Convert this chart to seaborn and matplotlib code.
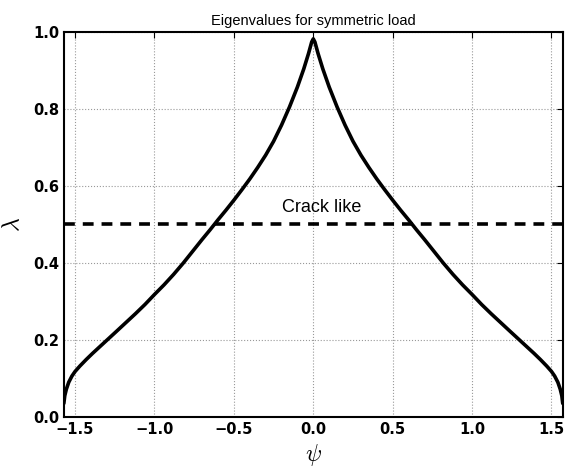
import numpy as np
import pandas as pd
import seaborn as sns
import matplotlib.pyplot as plt

# values (curve is symmetric about psi = 0)
psi = [-1.5708, -1.565, -1.555, -1.54, -1.52, -1.50, -1.47, -1.43, -1.39, -1.34,
       -1.29, -1.24, -1.18, -1.12, -1.06, -1.00, -0.94, -0.88, -0.82, -0.76,
       -0.70, -0.65, -0.60, -0.55, -0.50, -0.45, -0.40, -0.35, -0.30, -0.25,
       -0.20, -0.15, -0.10, -0.06, -0.03, -0.01, 0.0,
       0.01, 0.03, 0.06, 0.10, 0.15, 0.20, 0.25, 0.30, 0.35, 0.40,
       0.45, 0.50, 0.55, 0.60, 0.65, 0.70, 0.76, 0.82, 0.88, 0.94,
       1.00, 1.06, 1.12, 1.18, 1.24, 1.29, 1.34, 1.39, 1.43, 1.47,
       1.50, 1.52, 1.54, 1.555, 1.565, 1.5708]
lam = [0.035, 0.055, 0.072, 0.090, 0.106, 0.118, 0.132, 0.149, 0.165, 0.184,
       0.203, 0.222, 0.245, 0.268, 0.292, 0.318, 0.343, 0.370, 0.399, 0.430,
       0.461, 0.486, 0.512, 0.537, 0.563, 0.590, 0.618, 0.648, 0.680, 0.716,
       0.758, 0.805, 0.857, 0.904, 0.944, 0.974, 0.982,
       0.974, 0.944, 0.904, 0.857, 0.805, 0.758, 0.716, 0.680, 0.648, 0.618,
       0.590, 0.563, 0.537, 0.512, 0.486, 0.461, 0.430, 0.399, 0.370, 0.343,
       0.318, 0.292, 0.268, 0.245, 0.222, 0.203, 0.184, 0.165, 0.149, 0.132,
       0.118, 0.106, 0.090, 0.072, 0.055, 0.035]
crack_level = 0.5
x_ticks = [-1.5, -1.0, -0.5, 0.0, 0.5, 1.0, 1.5]
y_ticks = [0.0, 0.2, 0.4, 0.6, 0.8, 1.0]

df = pd.DataFrame({"psi": psi, "lam": lam})

sns.set_style("white")
plt.rcParams["font.family"] = ["DejaVu Sans"]
plt.rcParams["mathtext.fontset"] = "cm"
plt.rcParams["text.color"] = "black"

fig = plt.figure(figsize=(5.65, 4.7), dpi=100)
ax = fig.add_axes([0.113, 0.113, 0.883, 0.819])

sns.lineplot(data=df, x="psi", y="lam", color="black", linewidth=2.6, sort=False, ax=ax)
ax.axhline(crack_level, color="black", linewidth=2.6, linestyle=(0, (3, 2.2)))
ax.text(-0.2, 0.545, "Crack like", fontsize=13, family="Liberation Sans",
        va="center", color="black")

ax.set_xlim(-np.pi / 2, np.pi / 2)
ax.set_ylim(0, 1)
ax.set_xticks(x_ticks)
ax.set_yticks(y_ticks)
ax.set_xticklabels(["\u2212" + f"{abs(t):.1f}" if t < 0 else f"{t:.1f}" for t in x_ticks])
ax.set_yticklabels([f"{t:.1f}" for t in y_ticks])
ax.grid(True, color="#999999", linestyle=":", linewidth=0.8)
ax.tick_params(direction="in", top=True, right=True, length=4, width=0.8,
               labelsize=10.5, color="black", labelcolor="black")
for lab in ax.get_xticklabels() + ax.get_yticklabels():
    lab.set_fontweight("bold")
for sp in ax.spines.values():
    sp.set_color("black")
    sp.set_linewidth(1.5)

ax.set_xlabel(r"$\psi$", fontsize=17, labelpad=4, color="black")
ax.set_ylabel(r"$\lambda$", fontsize=17, labelpad=6, color="black")
ax.set_title("Eigenvalues for symmetric load", fontsize=10.5, family="Liberation Sans",
             pad=5, color="black")

fig.savefig("out.png", dpi=100)
